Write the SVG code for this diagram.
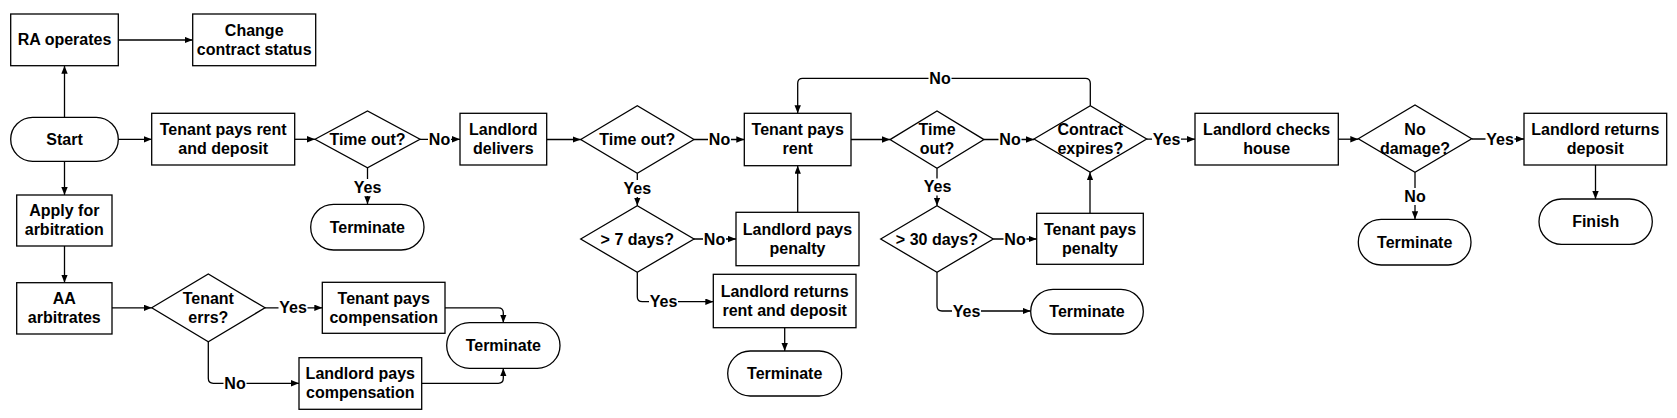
<svg xmlns="http://www.w3.org/2000/svg" width="1677" height="418" viewBox="0 0 1677 418">
<defs>
<marker id="ah" markerUnits="userSpaceOnUse" markerWidth="9" markerHeight="7" refX="8" refY="3.2" orient="auto">
<path d="M0,0 L8,3.2 L0,6.4 z" fill="#000"/>
</marker>
<style>
.box{fill:#fff;stroke:#000;stroke-width:1.3}
.c{fill:none;stroke:#000;stroke-width:1.3;marker-end:url(#ah)}
.t{font-family:"Liberation Sans",Arial,sans-serif;font-weight:bold;font-size:16px;text-anchor:middle;fill:#000}
.bg{fill:#fff}
</style>
</defs>
<rect width="1677" height="418" fill="#fff"/>

<g id="connectors">
<path class="c" d="M64.5,117.3 V65.7"/>
<path class="c" d="M118.3,40 H192.7"/>
<path class="c" d="M64.5,161.3 V195"/>
<path class="c" d="M64.5,246 V282.7"/>
<path class="c" d="M112,307.8 H151.7"/>
<path class="c" d="M265,307.8 H322.3"/>
<path class="c" d="M445,307.8 H498.3 Q503.3,307.8 503.3,312.8 V322.7"/>
<path class="c" d="M208.3,341.7 V378.3 Q208.3,383.3 213.3,383.3 H299"/>
<path class="c" d="M421.7,383.3 H498.3 Q503.3,383.3 503.3,378.3 V368.3"/>
<path class="c" d="M118.3,139.3 H151.7"/>
<path class="c" d="M294.7,139.3 H315"/>
<path class="c" d="M420,139.3 H460"/>
<path class="c" d="M367.5,167.7 V204.3"/>
<path class="c" d="M546.7,139.5 H580.7"/>
<path class="c" d="M694,139.5 H744.3"/>
<path class="c" d="M637.3,173.3 V205.7"/>
<path class="c" d="M694,239 H736"/>
<path class="c" d="M797.7,212.3 V165.7"/>
<path class="c" d="M637.3,272.3 V296.7 Q637.3,301.7 642.3,301.7 H713.3"/>
<path class="c" d="M784.7,327.7 V351"/>
<path class="c" d="M851,139.5 H890"/>
<path class="c" d="M984,139.5 H1034"/>
<path class="c" d="M937,168.3 V205.7"/>
<path class="c" d="M993.3,239 H1036.7"/>
<path class="c" d="M1090,213.3 V172.3"/>
<path class="c" d="M937,272.3 V306 Q937,311 942,311 H1030.7"/>
<path class="c" d="M1090.3,105.7 V83.3 Q1090.3,78.3 1085.3,78.3 H802.7 Q797.7,78.3 797.7,83.3 V113.3"/>
<path class="c" d="M1146.7,139.2 H1195"/>
<path class="c" d="M1338.3,139.2 H1358.3"/>
<path class="c" d="M1471.7,139 H1524"/>
<path class="c" d="M1415,172.3 V219.3"/>
<path class="c" d="M1595.5,165 V199"/>
</g>

<g id="labels">
<rect class="bg" x="428" y="131" width="23" height="17"/><text class="t" x="439.5" y="144.8">No</text>
<rect class="bg" x="353" y="179" width="29" height="17"/><text class="t" x="367.5" y="192.8">Yes</text>
<rect class="bg" x="278.5" y="299.5" width="29" height="17"/><text class="t" x="293" y="313.3">Yes</text>
<rect class="bg" x="223.5" y="375" width="23" height="17"/><text class="t" x="235" y="388.8">No</text>
<rect class="bg" x="708" y="131" width="23" height="17"/><text class="t" x="719.5" y="145">No</text>
<rect class="bg" x="623" y="180" width="29" height="17"/><text class="t" x="637.3" y="193.8">Yes</text>
<rect class="bg" x="703" y="230.5" width="23" height="17"/><text class="t" x="714.5" y="244.5">No</text>
<rect class="bg" x="649" y="293.5" width="29" height="17"/><text class="t" x="663.5" y="307.2">Yes</text>
<rect class="bg" x="998.5" y="131" width="23" height="17"/><text class="t" x="1010" y="145">No</text>
<rect class="bg" x="923" y="178.5" width="29" height="17"/><text class="t" x="937.5" y="192.2">Yes</text>
<rect class="bg" x="1003.5" y="230.5" width="23" height="17"/><text class="t" x="1015" y="244.5">No</text>
<rect class="bg" x="952" y="302.5" width="29" height="17"/><text class="t" x="966.5" y="316.5">Yes</text>
<rect class="bg" x="928.5" y="70" width="23" height="17"/><text class="t" x="940" y="83.8">No</text>
<rect class="bg" x="1152" y="131" width="29" height="17"/><text class="t" x="1166.5" y="144.7">Yes</text>
<rect class="bg" x="1485.5" y="130.5" width="29" height="17"/><text class="t" x="1500" y="144.5">Yes</text>
<rect class="bg" x="1403.5" y="188" width="23" height="17"/><text class="t" x="1415" y="201.5">No</text>
</g>

<g id="ra"><rect class="box" x="10.7" y="14" width="107.6" height="51.7"/><text class="t" x="64.5" y="45.3">RA operates</text></g>
<g id="change"><rect class="box" x="192.7" y="14" width="123" height="51.7"/><text class="t" x="254.2" y="35.6">Change</text><text class="t" x="254.2" y="54.6">contract status</text></g>
<g id="start"><rect class="box" x="10.7" y="117.3" width="107.6" height="44" rx="22" ry="22"/><text class="t" x="64.5" y="144.8">Start</text></g>
<g id="tprd"><rect class="box" x="151.7" y="113.3" width="143" height="51.7"/><text class="t" x="223.2" y="135">Tenant pays rent</text><text class="t" x="223.2" y="154">and deposit</text></g>
<g id="d1"><polygon class="box" points="315,139.3 367.5,111 420,139.3 367.5,167.7"/><text class="t" x="367.5" y="144.8">Time out?</text></g>
<g id="ld"><rect class="box" x="460" y="113.3" width="86.7" height="51.7"/><text class="t" x="503.3" y="135">Landlord</text><text class="t" x="503.3" y="154">delivers</text></g>
<g id="term1"><rect class="box" x="310.7" y="204.3" width="113.3" height="45.7" rx="22.8" ry="22.8"/><text class="t" x="367.3" y="232.7">Terminate</text></g>
<g id="apply"><rect class="box" x="16.7" y="195" width="95.3" height="51"/><text class="t" x="64.3" y="216.3">Apply for</text><text class="t" x="64.3" y="235.3">arbitration</text></g>
<g id="aa"><rect class="box" x="16.7" y="282.7" width="95.3" height="51.3"/><text class="t" x="64.3" y="304.1">AA</text><text class="t" x="64.3" y="323.1">arbitrates</text></g>
<g id="errs"><polygon class="box" points="151.7,307.8 208.3,274 265,307.8 208.3,341.7"/><text class="t" x="208.3" y="303.6">Tenant</text><text class="t" x="208.3" y="322.6">errs?</text></g>
<g id="tpc"><rect class="box" x="322.3" y="282.3" width="122.7" height="51"/><text class="t" x="383.7" y="303.6">Tenant pays</text><text class="t" x="383.7" y="322.6">compensation</text></g>
<g id="lpc"><rect class="box" x="299" y="357.7" width="122.7" height="51.6"/><text class="t" x="360.3" y="379.3">Landlord pays</text><text class="t" x="360.3" y="398.3">compensation</text></g>
<g id="term2"><rect class="box" x="446.7" y="322.7" width="113.3" height="45.6" rx="22.8" ry="22.8"/><text class="t" x="503.3" y="351">Terminate</text></g>
<g id="d2"><polygon class="box" points="580.7,139.5 637.3,105.7 694,139.5 637.3,173.3"/><text class="t" x="637.3" y="145">Time out?</text></g>
<g id="tpr"><rect class="box" x="744.3" y="113.3" width="106.7" height="52.4"/><text class="t" x="797.7" y="135.3">Tenant pays</text><text class="t" x="797.7" y="154.3">rent</text></g>
<g id="d7"><polygon class="box" points="580.7,239 637.3,205.7 694,239 637.3,272.3"/><text class="t" x="637.3" y="244.5">&gt; 7 days?</text></g>
<g id="lpp"><rect class="box" x="736" y="212.3" width="123" height="53.4"/><text class="t" x="797.5" y="234.8">Landlord pays</text><text class="t" x="797.5" y="253.8">penalty</text></g>
<g id="lrrd"><rect class="box" x="713.3" y="274.3" width="142.7" height="53.4"/><text class="t" x="784.7" y="296.8">Landlord returns</text><text class="t" x="784.7" y="315.8">rent and deposit</text></g>
<g id="term3"><rect class="box" x="727.7" y="351" width="114" height="45" rx="22.5" ry="22.5"/><text class="t" x="784.7" y="379">Terminate</text></g>
<g id="d3"><polygon class="box" points="890,139.6 937,111 984,139.6 937,168.3"/><text class="t" x="937" y="135.4">Time</text><text class="t" x="937" y="154.4">out?</text></g>
<g id="d30"><polygon class="box" points="880.7,239 937,205.7 993.3,239 937,272.3"/><text class="t" x="937" y="244.5">&gt; 30 days?</text></g>
<g id="tpp"><rect class="box" x="1036.7" y="213.3" width="106.6" height="51"/><text class="t" x="1090" y="234.6">Tenant pays</text><text class="t" x="1090" y="253.6">penalty</text></g>
<g id="term4"><rect class="box" x="1030.7" y="289.3" width="112.6" height="44.7" rx="22.3" ry="22.3"/><text class="t" x="1087" y="317.2">Terminate</text></g>
<g id="ce"><polygon class="box" points="1034,139 1090.3,105.7 1146.7,139 1090.3,172.3"/><text class="t" x="1090.3" y="134.8">Contract</text><text class="t" x="1090.3" y="153.8">expires?</text></g>
<g id="lch"><rect class="box" x="1195" y="113.3" width="143.3" height="51.7"/><text class="t" x="1266.7" y="135">Landlord checks</text><text class="t" x="1266.7" y="154">house</text></g>
<g id="nd"><polygon class="box" points="1358.3,138.7 1415,105 1471.7,138.7 1415,172.3"/><text class="t" x="1415" y="134.5">No</text><text class="t" x="1415" y="153.5">damage?</text></g>
<g id="term5"><rect class="box" x="1358.3" y="219.3" width="112.7" height="45.7" rx="22.8" ry="22.8"/><text class="t" x="1414.7" y="247.7">Terminate</text></g>
<g id="lrd"><rect class="box" x="1524" y="113.3" width="142.7" height="51.7"/><text class="t" x="1595.3" y="135">Landlord returns</text><text class="t" x="1595.3" y="154">deposit</text></g>
<g id="finish"><rect class="box" x="1539" y="199" width="113.3" height="45.3" rx="22.6" ry="22.6"/><text class="t" x="1595.7" y="227.2">Finish</text></g>
</svg>
